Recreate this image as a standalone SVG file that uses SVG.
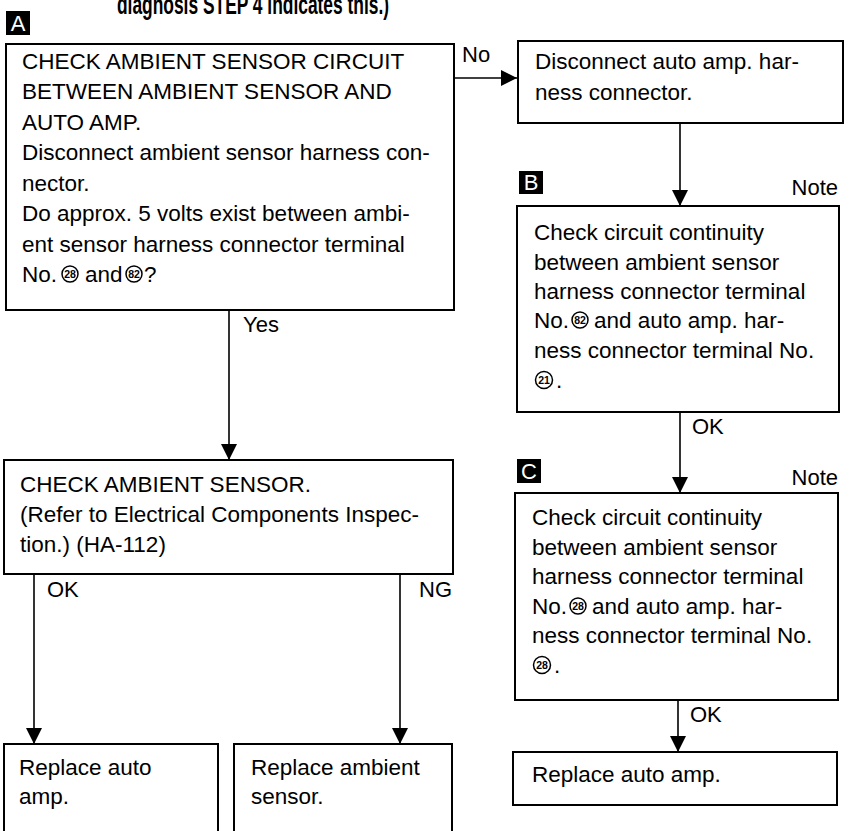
<svg xmlns="http://www.w3.org/2000/svg" width="849" height="831" viewBox="0 0 849 831">
<style>
.box{fill:#fff;stroke:#000;stroke-width:2}
.t{font-family:"Liberation Sans",Arial,sans-serif;font-size:22.5px;fill:#000}
.lbl{font-family:"Liberation Sans",Arial,sans-serif;font-size:22px;fill:#000}
.tag{fill:#000}
.tagt{font-family:"Liberation Sans",Arial,sans-serif;font-size:22px;fill:#fff;text-anchor:middle}
.cn{fill:#fff;stroke:#000;stroke-width:1.5}
.cnt{font-family:"Liberation Sans",Arial,sans-serif;font-size:10.5px;font-weight:bold;fill:#000;text-anchor:middle}
.ln{stroke:#000;stroke-width:1.6;fill:none}
</style>
<defs>
<marker id="ah" markerUnits="userSpaceOnUse" markerWidth="16" markerHeight="16" viewBox="0 0 14 14" refX="14" refY="7" orient="auto">
<path d="M0,0 L14,7 L0,14 z" fill="#000"/>
</marker>
</defs>
<rect width="849" height="831" fill="#fff"/>
<text x="117" y="14" font-family="Liberation Sans,Arial,sans-serif" font-size="28" font-weight="bold" textLength="272" lengthAdjust="spacingAndGlyphs">diagnosis STEP 4 indicates this.)</text>

<g id="connectors">
<line class="ln" x1="454" y1="78" x2="517" y2="78" marker-end="url(#ah)"/>
<line class="ln" x1="680" y1="123" x2="680" y2="206" marker-end="url(#ah)"/>
<line class="ln" x1="680" y1="412" x2="680" y2="493" marker-end="url(#ah)"/>
<line class="ln" x1="678" y1="700" x2="678" y2="752" marker-end="url(#ah)"/>
<line class="ln" x1="229" y1="310" x2="229" y2="460" marker-end="url(#ah)"/>
<line class="ln" x1="34" y1="574" x2="34" y2="744" marker-end="url(#ah)"/>
<line class="ln" x1="400" y1="574" x2="400" y2="744" marker-end="url(#ah)"/>
<text class="lbl" x="462" y="62">No</text>
<text class="lbl" x="243" y="332">Yes</text>
<text class="lbl" x="692" y="434">OK</text>
<text class="lbl" x="690" y="722">OK</text>
<text class="lbl" x="47" y="597">OK</text>
<text class="lbl" x="419" y="597">NG</text>
</g>

<g id="nodeA">
<rect class="tag" x="6" y="11" width="24" height="24"/>
<text class="tagt" x="18" y="31">A</text>
<rect class="box" x="6" y="44" width="448" height="266"/>
<text class="t" x="22" y="69">CHECK AMBIENT SENSOR CIRCUIT</text>
<text class="t" x="22" y="99">BETWEEN AMBIENT SENSOR AND</text>
<text class="t" x="22" y="130">AUTO AMP.</text>
<text class="t" x="22" y="160">Disconnect ambient sensor harness con-</text>
<text class="t" x="22" y="191">nector.</text>
<text class="t" x="22" y="221">Do approx. 5 volts exist between ambi-</text>
<text class="t" x="22" y="252">ent sensor harness connector terminal</text>
<text class="t" x="22" y="282">No.</text>
<circle class="cn" cx="70" cy="274" r="8"/><text class="cnt" x="70" y="277.8">28</text>
<text class="t" x="85" y="282">and</text>
<circle class="cn" cx="134" cy="274" r="8"/><text class="cnt" x="134" y="277.8">82</text>
<text class="t" x="144" y="282">?</text>
</g>

<g id="nodeDisconnect">
<rect class="box" x="518" y="41" width="325" height="82"/>
<text class="t" x="535" y="69">Disconnect auto amp. har-</text>
<text class="t" x="535" y="100">ness connector.</text>
</g>

<g id="nodeB">
<rect class="tag" x="519" y="171" width="24" height="23"/>
<text class="tagt" x="531" y="190">B</text>
<text class="lbl" x="838" y="195" text-anchor="end">Note</text>
<rect class="box" x="517" y="206" width="322" height="206"/>
<text class="t" x="534" y="240">Check circuit continuity</text>
<text class="t" x="534" y="270">between ambient sensor</text>
<text class="t" x="534" y="299">harness connector terminal</text>
<text class="t" x="534" y="328">No.</text>
<circle class="cn" cx="580" cy="320" r="8"/><text class="cnt" x="580" y="323.8">82</text>
<text class="t" x="594" y="328">and auto amp. har-</text>
<text class="t" x="534" y="358">ness connector terminal No.</text>
<circle class="cn" cx="544" cy="380" r="8.5"/><text class="cnt" x="544" y="383.8">21</text>
<text class="t" x="556" y="388">.</text>
</g>

<g id="nodeC">
<rect class="tag" x="517" y="459" width="24" height="24"/>
<text class="tagt" x="529" y="479">C</text>
<text class="lbl" x="838" y="485" text-anchor="end">Note</text>
<rect class="box" x="515" y="493" width="323" height="207"/>
<text class="t" x="532" y="525">Check circuit continuity</text>
<text class="t" x="532" y="555">between ambient sensor</text>
<text class="t" x="532" y="584">harness connector terminal</text>
<text class="t" x="532" y="614">No.</text>
<circle class="cn" cx="578" cy="606" r="8"/><text class="cnt" x="578" y="609.8">28</text>
<text class="t" x="592" y="614">and auto amp. har-</text>
<text class="t" x="532" y="643">ness connector terminal No.</text>
<circle class="cn" cx="542" cy="665" r="8.5"/><text class="cnt" x="542" y="668.8">28</text>
<text class="t" x="554" y="673">.</text>
</g>

<g id="nodeReplaceAmp2">
<rect class="box" x="513" y="752" width="324" height="53"/>
<text class="t" x="532" y="782">Replace auto amp.</text>
</g>

<g id="nodeCheckSensor">
<rect class="box" x="4" y="460" width="449" height="114"/>
<text class="t" x="20" y="492">CHECK AMBIENT SENSOR.</text>
<text class="t" x="20" y="522">(Refer to Electrical Components Inspec-</text>
<text class="t" x="20" y="552">tion.) (HA-112)</text>
</g>

<g id="nodeReplaceAmp1">
<rect class="box" x="4" y="744" width="214" height="100"/>
<text class="t" x="19" y="775">Replace auto</text>
<text class="t" x="19" y="804">amp.</text>
</g>

<g id="nodeReplaceSensor">
<rect class="box" x="234" y="744" width="218" height="100"/>
<text class="t" x="251" y="775">Replace ambient</text>
<text class="t" x="251" y="804">sensor.</text>
</g>
</svg>
